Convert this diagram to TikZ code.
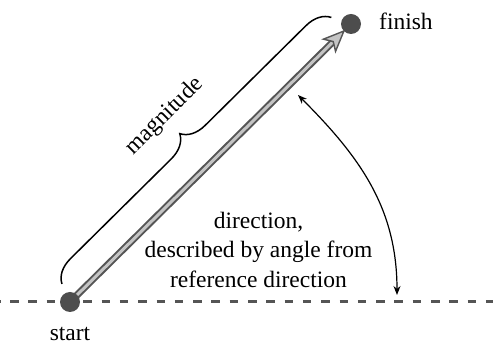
\documentclass[tikz,border=0pt]{standalone}
\usepackage{fontspec}
\setmainfont{Liberation Serif}
\usetikzlibrary{calc,arrows.meta,decorations.pathreplacing,backgrounds}
\definecolor{dotgray}{HTML}{4D4D4D}
\definecolor{vecdark}{HTML}{555555}
\definecolor{veclight}{HTML}{C4C4C4}
\definecolor{dashgray}{HTML}{555555}
\begin{document}
\begin{tikzpicture}[x=1pt,y=1pt,
  dot/.style={circle,fill=dotgray,inner sep=0pt,minimum size=20pt},
  lbl/.style={font=\fontsize{23.5}{29.5}\selectfont,inner sep=0pt},
  refline/.style={dashgray,line width=2.2pt,dash pattern=on 8.5pt off 9.8pt,dash phase=8.2pt},
  shaftout/.style={vecdark,line width=7pt},
  shaftin/.style={veclight,line width=3pt},
  headstyle/.style={fill=veclight,draw=vecdark,line width=1.4pt,line join=miter},
  bracestyle/.style={decorate,decoration={brace,amplitude=24pt,raise=18.5pt},line width=1.5pt},
  anglearrow/.style={line width=1.2pt,{Stealth[length=9pt,width=7pt]}-{Stealth[length=9pt,width=7pt]}}
]
\useasboundingbox (0,0) rectangle (493,345);
% endpoints
\node[dot] (s) at (70,43) {};
\node[dot] (f) at (351,321) {};
% reference line ends
\coordinate (rl) at (0,43.5);
\coordinate (rr) at (493,43.5);
% arrow head geometry
\coordinate (tip) at ($(f.center)!10pt!(s.center)$);
\coordinate (hb) at ($(tip)!15pt!(s.center)$);
\coordinate (b1) at ($(tip)!22pt!23:(s.center)$);
\coordinate (b2) at ($(tip)!22pt!-23:(s.center)$);
\begin{pgfonlayer}{background}
  \draw[refline] (rl) -- (rr);
  \draw[shaftout] (s.center) -- (hb);
  \draw[shaftin] (s.center) -- (hb);
  \filldraw[headstyle] (tip) -- (b1) -- (hb) -- (b2) -- cycle;
\end{pgfonlayer}
% brace
\coordinate (bs) at ($(s.center)!7pt!(f.center)$);
\coordinate (be) at ($(s.center)!386pt!(f.center)$);
\draw[bracestyle] (bs) -- (be);
\node[lbl,rotate=44.7] (mag) at ($(s.center)!198pt!(f.center)!65.5pt!90:(f.center)$) {magnitude};
% angle arc
\coordinate (a1) at (397,50);
\coordinate (a2) at (298,250);
\draw[anglearrow] (a1) to[out=90,in=-45] (a2);
% labels
\node[lbl,anchor=base west] (fin) at (379,315.7) {finish};
\node[lbl,anchor=base] (st) at (70,4.5) {start};
\node[lbl,align=center,anchor=base] (dir) at (258.5,57.7) {direction,\\described by angle from\\reference direction};
\end{tikzpicture}
\end{document}
